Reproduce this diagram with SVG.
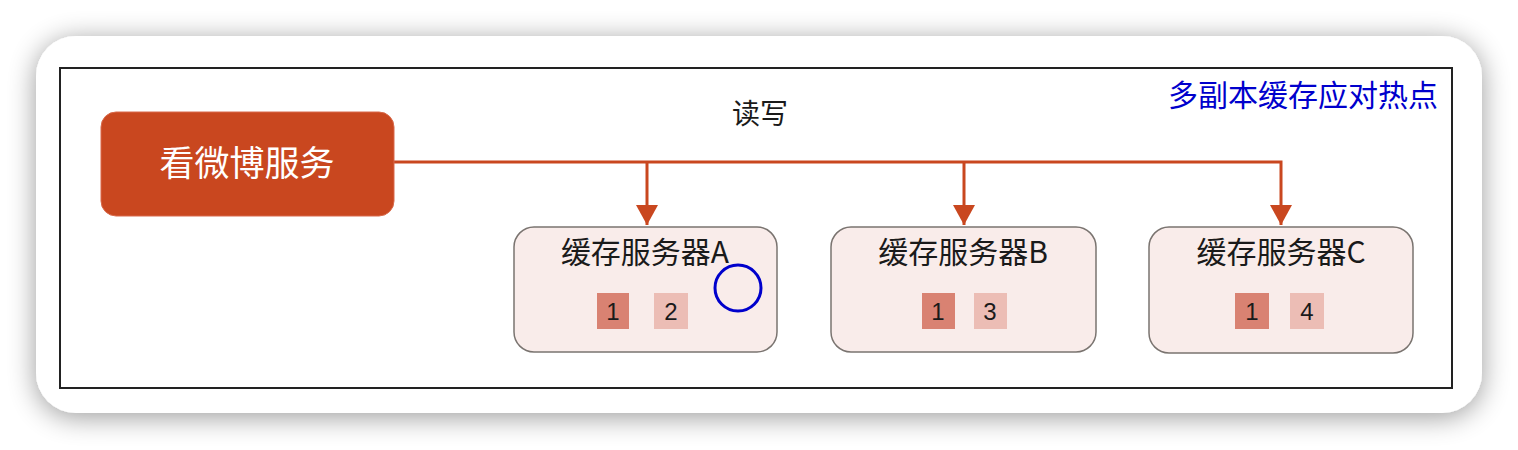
<svg xmlns="http://www.w3.org/2000/svg" width="1518" height="450" viewBox="0 0 1518 450">
<defs>
<filter id="shadow" x="-10%" y="-20%" width="120%" height="140%">
<feGaussianBlur in="SourceAlpha" stdDeviation="14"/>
<feOffset dx="0" dy="4" result="b"/>
<feComponentTransfer><feFuncA type="linear" slope="0.4"/></feComponentTransfer>
<feMerge><feMergeNode/><feMergeNode in="SourceGraphic"/></feMerge>
</filter>
<marker id="arrow" viewBox="0 0 20 22" refX="20" refY="11" markerWidth="20" markerHeight="22" markerUnits="userSpaceOnUse" orient="auto">
<path d="M0,0 L20,11 L0,22 Z" fill="#C9471F"/>
</marker>
</defs>
<style>
text{font-family:"Noto Sans CJK SC","Liberation Sans",sans-serif;}
.cache rect.box{fill:#F9ECEA;stroke:#7a7470;stroke-width:1.5;}
.title{font-size:30px;fill:#1a1a1a;text-anchor:middle;}
.num{font-size:24px;fill:#1a1a1a;text-anchor:middle;font-family:"Liberation Sans",sans-serif;}
.dark{fill:#D98272;}
.light{fill:#ECBDB5;}
.conn{fill:none;stroke:#C9471F;stroke-width:3;}
</style>
<rect x="0" y="0" width="1518" height="450" fill="#ffffff"/>
<rect x="36" y="36" width="1446" height="377" rx="40" fill="#ffffff" filter="url(#shadow)"/>
<rect x="60" y="68" width="1392" height="320" fill="#ffffff" stroke="#222" stroke-width="2"/>
<text x="1438" y="106" font-size="30" fill="#0000CC" text-anchor="end">多副本缓存应对热点</text>
<text x="760" y="124" font-size="28" fill="#1a1a1a" text-anchor="middle">读写</text>
<g id="connectors">
<path class="conn" d="M394,162 H1281 V225" marker-end="url(#arrow)"/>
<path class="conn" d="M647,162 V225" marker-end="url(#arrow)"/>
<path class="conn" d="M964,162 V225" marker-end="url(#arrow)"/>
</g>
<g id="weibo">
<rect x="101" y="112" width="293" height="104" rx="15" fill="#C9471F" stroke="#d9694a" stroke-width="1"/>
<text x="247" y="176" font-size="35" fill="#ffffff" text-anchor="middle">看微博服务</text>
</g>
<g id="cacheA" class="cache">
<rect class="box" x="514" y="227" width="263" height="125" rx="20"/>
<text class="title" x="645" y="263">缓存服务器A</text>
<rect class="dark" x="597" y="293" width="32" height="36"/>
<text class="num" x="613" y="320">1</text>
<rect class="light" x="654" y="293" width="34" height="36"/>
<text class="num" x="671" y="320">2</text>
<circle cx="738" cy="288" r="23" fill="none" stroke="#0000CC" stroke-width="3"/>
</g>
<g id="cacheB" class="cache">
<rect class="box" x="831" y="227" width="265" height="125" rx="20"/>
<text class="title" x="963" y="263">缓存服务器B</text>
<rect class="dark" x="922" y="293" width="33" height="36"/>
<text class="num" x="938" y="320">1</text>
<rect class="light" x="974" y="293" width="33" height="36"/>
<text class="num" x="990" y="320">3</text>
</g>
<g id="cacheC" class="cache">
<rect class="box" x="1149" y="227" width="264" height="126" rx="20"/>
<text class="title" x="1281" y="263">缓存服务器C</text>
<rect class="dark" x="1235" y="293" width="34" height="36"/>
<text class="num" x="1252" y="320">1</text>
<rect class="light" x="1290" y="293" width="34" height="36"/>
<text class="num" x="1307" y="320">4</text>
</g>
</svg>
